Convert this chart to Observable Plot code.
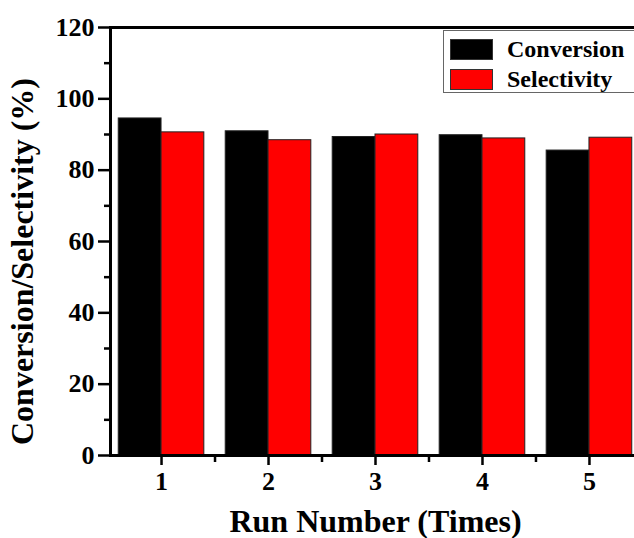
<!DOCTYPE html>
<html>
<head>
<meta charset="utf-8">
<script src="https://cdn.jsdelivr.net/npm/d3@7"></script>
<script src="https://cdn.jsdelivr.net/npm/@observablehq/plot@0.6"></script>
<style>
  html, body { margin: 0; padding: 0; background: #fff; overflow: hidden; }
  #wrap { position: relative; width: 634px; height: 538px; overflow: hidden; }
  #wrap svg { max-width: none !important; width: 650px; height: 538px; display: block;
    font-family: "Liberation Serif", "Times New Roman", serif; font-weight: bold; }
  g[aria-label="x-axis label"] text, g[aria-label="y-axis label"] text { font-size: 32px; }
  #legend { position: absolute; left: 443px; top: 30px; width: 200px; height: 63px;
    border: 1px solid #666; background: #fff; font-family: "Liberation Serif", serif;
    font-weight: bold; font-size: 24px; box-sizing: border-box; }
  #legend .row { position: absolute; left: 6px; height: 21px; }
  #legend .sw { position: absolute; left: 0; top: 0; width: 43px; height: 21px; box-sizing: border-box; border: 1px solid #333; }
  #legend .lb { position: absolute; left: 57px; top: -4px; white-space: nowrap; line-height: 28px; }
</style>
</head>
<body>
<div id="wrap"></div>
<script>
const runs = [1, 2, 3, 4, 5];
const conversion = [94.5, 90.9, 89.3, 89.8, 85.5];
const selectivity = [90.6, 88.4, 90.0, 88.9, 89.1];
const seriesNames = ["Conversion", "Selectivity"];
const seriesColors = ["#000000", "#ff0000"];
const yTicks = [0, 20, 40, 60, 80, 100, 120];
const yMinor = [10, 30, 50, 70, 90, 110];
const xMinor = [1.5, 2.5, 3.5, 4.5];

const rows = [];
runs.forEach((r, i) => {
  rows.push({run: r, series: seriesNames[0], value: conversion[i], x1: r - 0.4, x2: r});
  rows.push({run: r, series: seriesNames[1], value: selectivity[i], x1: r, x2: r + 0.4});
});

const font = "Liberation Serif";
const chart = Plot.plot({
  width: 650,
  height: 538,
  marginLeft: 110,
  marginRight: 10,
  marginTop: 27,
  marginBottom: 83,
  style: {fontFamily: font, fontWeight: "bold", fontSize: "26px", color: "#000", background: "#fff", maxWidth: "none"},
  x: {type: "linear", domain: [0.523, 5.477]},
  y: {domain: [0, 120]},
  color: {domain: seriesNames, range: seriesColors},
  marks: [
    Plot.rect(rows, {x1: "x1", x2: "x2", y1: 0, y2: "value", fill: "series", stroke: "#222", strokeWidth: 1}),
    Plot.axisY({ticks: yTicks, tickSize: 12, tickPadding: 4, strokeWidth: 2.5, fontSize: 26,
      label: "Conversion/Selectivity (%)", labelAnchor: "center", labelArrow: "none", labelOffset: 100}),
    Plot.axisY({ticks: yMinor, tickSize: 6, strokeWidth: 2.5, text: null, label: null}),
    Plot.axisX({ticks: runs, tickSize: 10, tickPadding: 6, strokeWidth: 2.5, fontSize: 26, tickFormat: d => String(d),
      label: "Run Number (Times)", labelAnchor: "center", labelArrow: "none", labelOffset: 76}),
    Plot.axisX({ticks: xMinor, tickSize: 7, strokeWidth: 2.5, text: null, label: null}),
    Plot.frame({stroke: "#000", strokeWidth: 3})
  ]
});
const wrap = document.getElementById("wrap");
wrap.appendChild(chart);

// shift the y-axis title down slightly, as in the reference
const yl = chart.querySelector('g[aria-label="y-axis label"]');
if (yl) {
  const t = yl.getAttribute("transform") || "";
  yl.setAttribute("transform", "translate(0,20) " + t);
}

const legend = document.createElement("div");
legend.id = "legend";
seriesNames.forEach((name, i) => {
  const row = document.createElement("div");
  row.className = "row";
  row.style.top = (i === 0 ? 8 : 38) + "px";
  const sw = document.createElement("div");
  sw.className = "sw";
  sw.style.background = seriesColors[i];
  const lb = document.createElement("div");
  lb.className = "lb";
  lb.textContent = name;
  row.appendChild(sw);
  row.appendChild(lb);
  legend.appendChild(row);
});
wrap.appendChild(legend);
</script>
</body>
</html>
